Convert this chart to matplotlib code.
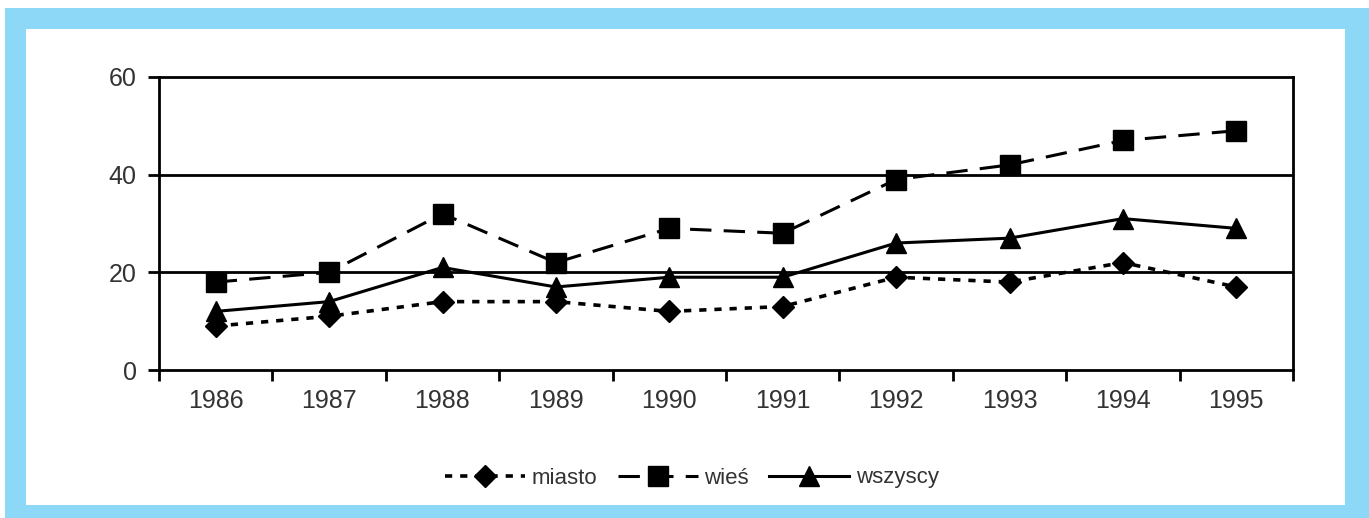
import matplotlib.pyplot as plt
import matplotlib.patches as mpatches
import numpy as np

years = ['1986', '1987', '1988', '1989', '1990', '1991', '1992', '1993', '1994', '1995']
miasto = [9, 11, 14, 14, 12, 13, 19, 18, 22, 17]
wies = [18, 20, 32, 22, 29, 28, 39, 42, 47, 49]
wszyscy = [12, 14, 21, 17, 19, 19, 26, 27, 31, 29]

plt.rcParams['font.family'] = ['Liberation Sans', 'DejaVu Sans']

fig = plt.figure(figsize=(13.69, 5.18), dpi=100)
W, H = 1369, 518

# blue frame
fig.patches.append(mpatches.Rectangle((5 / W, 0), 1 - 5 / W, 1 - 8 / H, transform=fig.transFigure,
                                      facecolor='#8dd8f6', edgecolor='none', zorder=-2))
fig.patches.append(mpatches.Rectangle((26 / W, 13 / H), (1345 - 26) / W, (489 - 13) / H,
                                      transform=fig.transFigure, facecolor='white',
                                      edgecolor='none', zorder=-1))

ax = fig.add_axes([159 / W, 1 - 370 / H, (1293 - 159) / W, (370 - 77) / H])
ax.set_facecolor('white')

x = np.arange(len(years))
ax.plot(x, miasto, color='black', lw=2.6, linestyle=(0, (2, 2.2)), marker='D', ms=11,
        label='miasto', zorder=3)
ax.plot(x, wies, color='black', lw=2.2, linestyle=(0, (7, 4)), marker='s', ms=15,
        label='wieś', zorder=3)
ax.plot(x, wszyscy, color='black', lw=2.2, linestyle='-', marker='^', ms=15,
        label='wszyscy', zorder=3)

ax.set_xlim(-0.5, len(years) - 0.5)
ax.set_ylim(0, 60)
ax.set_yticks([0, 20, 40, 60])
for v in [20, 40]:
    ax.axhline(v, color='black', lw=2, zorder=1)

ax.set_xticks(x)
ax.set_xticklabels(years)
ax.set_xticks(np.arange(-0.5, len(years)), minor=True)
ax.tick_params(axis='x', which='major', length=0, pad=14, labelsize=18, labelcolor='#333333')
ax.tick_params(axis='x', which='minor', length=8, width=2, direction='out')
ax.tick_params(axis='y', length=8, width=2, direction='out', pad=8, labelsize=18,
               labelcolor='#333333')
for s in ax.spines.values():
    s.set_linewidth(2)

fig.legend(loc='center', bbox_to_anchor=(692 / W, 1 - 478 / H), ncol=3, frameon=False,
           fontsize=16, handlelength=3.6, columnspacing=0.9, handletextpad=0.3,
           labelcolor='#333333')

fig.savefig('out.png', dpi=100, facecolor='white')
